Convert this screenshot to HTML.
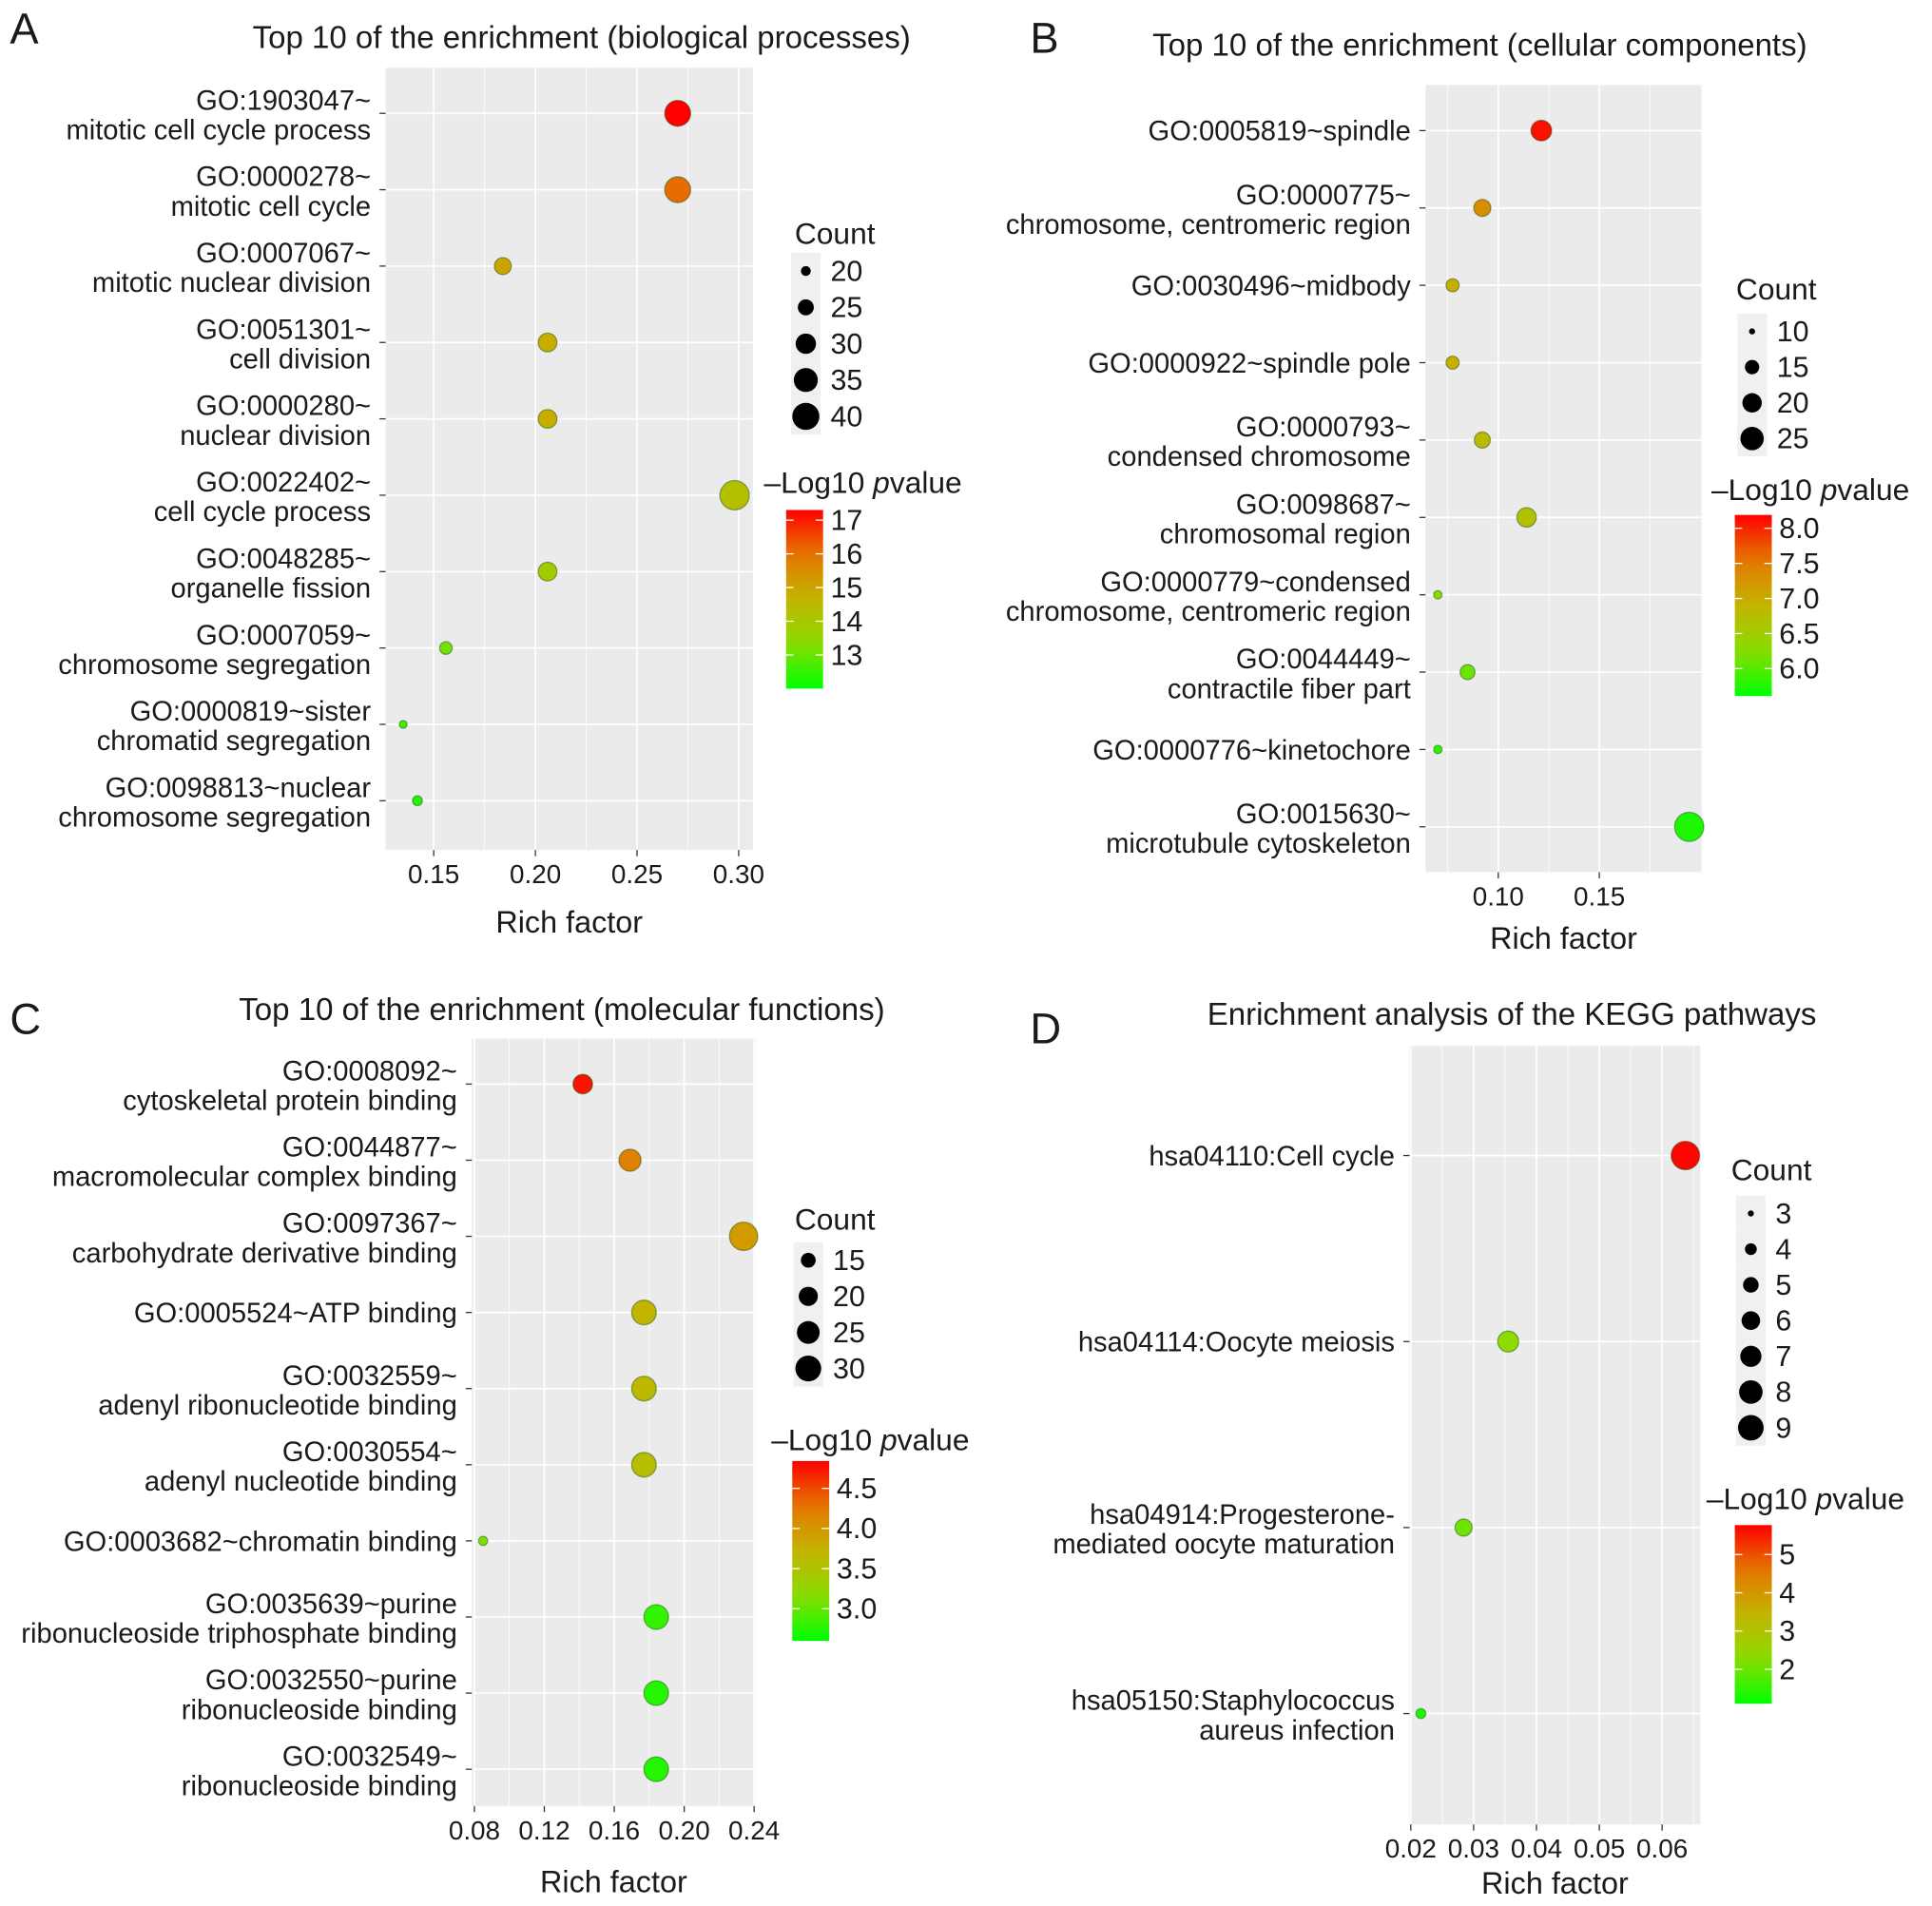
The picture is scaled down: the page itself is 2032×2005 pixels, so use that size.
<!DOCTYPE html>
<html><head><meta charset="utf-8"><style>
html,body{margin:0;padding:0;background:#fff}
svg{display:block}
text{font-family:"Liberation Sans",Arial,sans-serif;fill:#1a1a1a}
</style></head><body>
<svg id="fig" width="2032" height="2005" viewBox="0 0 1568 1547.2" xmlns="http://www.w3.org/2000/svg"></svg>
<script>
// ---------- Panel A data ----------
const aTerms = [["GO:1903047~","mitotic cell cycle process"],["GO:0000278~","mitotic cell cycle"],["GO:0007067~","mitotic nuclear division"],["GO:0051301~","cell division"],["GO:0000280~","nuclear division"],["GO:0022402~","cell cycle process"],["GO:0048285~","organelle fission"],["GO:0007059~","chromosome segregation"],["GO:0000819~sister","chromatid segregation"],["GO:0098813~nuclear","chromosome segregation"]];
const aRich = [0.270,0.270,0.184,0.206,0.206,0.298,0.206,0.156,0.135,0.142];
const aCount = [38,38,26,28,28,44,28,22,18,20];
const aLogP = [17.4,16.1,15.0,14.8,14.8,14.3,13.9,13.1,12.6,12.3];
const aXTicks = [0.15,0.20,0.25,0.30];
const aSizeBreaks = [20,25,30,35,40];
const aColorTicks = [13,14,15,16,17];
// ---------- Panel B data ----------
const bTerms = [["GO:0005819~spindle"],["GO:0000775~","chromosome, centromeric region"],["GO:0030496~midbody"],["GO:0000922~spindle pole"],["GO:0000793~","condensed chromosome"],["GO:0098687~","chromosomal region"],["GO:0000779~condensed","chromosome, centromeric region"],["GO:0044449~","contractile fiber part"],["GO:0000776~kinetochore"],["GO:0015630~","microtubule cytoskeleton"]];
const bRich = [0.1213,0.0921,0.0774,0.0774,0.0921,0.114,0.0701,0.0848,0.0701,0.1945];
const bCount = [21.5,17.5,14,14,16.5,20,11,15.5,11,34];
const bLogP = [8.1,7.3,6.95,6.95,6.8,6.7,6.3,6.1,5.8,5.75];
const bXTicks = [0.10,0.15];
const bSizeBreaks = [10,15,20,25];
const bColorTicks = [6.0,6.5,7.0,7.5,8.0];
// ---------- Panel C data ----------
const cTerms = [["GO:0008092~","cytoskeletal protein binding"],["GO:0044877~","macromolecular complex binding"],["GO:0097367~","carbohydrate derivative binding"],["GO:0005524~ATP binding"],["GO:0032559~","adenyl ribonucleotide binding"],["GO:0030554~","adenyl nucleotide binding"],["GO:0003682~chromatin binding"],["GO:0035639~purine","ribonucleoside triphosphate binding"],["GO:0032550~purine","ribonucleoside binding"],["GO:0032549~","ribonucleoside binding"]];
const cRich = [0.142,0.169,0.234,0.177,0.177,0.177,0.085,0.184,0.184,0.184];
const cCount = [20.5,24,34.5,28,28,28,10.5,28,28,28];
const cLogP = [4.75,4.2,3.95,3.7,3.65,3.6,3.1,2.8,2.75,2.75];
const cXTicks = [0.08,0.12,0.16,0.20,0.24];
const cSizeBreaks = [15,20,25,30];
const cColorTicks = [3.0,3.5,4.0,4.5];
// ---------- Panel D data ----------
const dTerms = [["hsa04110:Cell cycle"],["hsa04114:Oocyte meiosis"],["hsa04914:Progesterone-","mediated oocyte maturation"],["hsa05150:Staphylococcus","aureus infection"]];
const dRich = [0.0637,0.0355,0.0284,0.0216];
const dCount = [10.5,6.9,5.5,3.6];
const dLogP = [5.7,2.3,2.0,1.3];
const dXTicks = [0.02,0.03,0.04,0.05,0.06];
const dSizeBreaks = [3,4,5,6,7,8,9];
const dColorTicks = [2,3,4,5];

const NS = "http://www.w3.org/2000/svg";
const svg = document.getElementById('fig');
function mk(tag, attrs, parent, txt){
  const e = document.createElementNS(NS, tag);
  for (const k in attrs) e.setAttribute(k, attrs[k]);
  if (txt !== undefined) e.textContent = txt;
  (parent || svg).appendChild(e);
  return e;
}
const stops = [[0,[0,255,0]],[0.25,[140,220,0]],[0.5,[195,180,0]],[0.75,[228,120,0]],[1,[255,0,0]]];
function grad(t){
  t = Math.max(0, Math.min(1, t));
  for (let i=1;i<stops.length;i++){
    if (t <= stops[i][0]){
      const a = stops[i-1], b = stops[i], f = (t-a[0])/(b[0]-a[0]);
      const c = a[1].map((v,j)=>Math.round(v+(b[1][j]-v)*f));
      return `rgb(${c[0]},${c[1]},${c[2]})`;
    }
  }
  return 'rgb(255,0,0)';
}
let gradId = 0;

function panel(cfg){
  const g = mk('g', {});
  
  
  const L=cfg.plot[0], R=cfg.plot[1], T=cfg.plot[2], B=cfg.plot[3];
  const xs = v => cfg.x0px + (v - cfg.x0) * cfg.pxPer;
  const rowY = i => cfg.row0 + i * cfg.rowStep;
  const rad = c => Math.sqrt(Math.max(10, cfg.ra + cfg.rb * c));
  const col = p => grad((p - cfg.cMin) / (cfg.cMax - cfg.cMin));
  const let_ = mk('text', {x:cfg.letter[0], y:cfg.letter[1], 'font-size':35}, g, cfg.letterText);
  
  
  const tt = mk('text', {x:cfg.titlePos[0], y:cfg.titlePos[1], 'font-size':25.5, 'text-anchor':'middle'}, g, cfg.title);
  
  
  const bg = mk('rect', {x:L, y:T, width:R-L, height:B-T, fill:'#ebebeb'}, g);
  
  
  const step = cfg.xTicks[1] - cfg.xTicks[0];
  for (let v = cfg.xTicks[0] - step/2; v < cfg.xTicks[cfg.xTicks.length-1] + step; v += step){
    const px = xs(v);
    if (px > L && px < R){
      const ml = mk('line', {x1:px, x2:px, y1:T, y2:B, stroke:'#fff', 'stroke-width':0.6}, g);
      
      
    }
  }
  cfg.xTicks.forEach(v => {
    const px = xs(v);
    const gl = mk('line', {x1:px, x2:px, y1:T, y2:B, stroke:'#fff', 'stroke-width':1.3}, g);
    
    
    const tm = mk('line', {x1:px, x2:px, y1:B, y2:B+5, stroke:'#333', 'stroke-width':1}, g);
    
    
    const tl = mk('text', {x:px, y:B+27, 'font-size':21.5, 'text-anchor':'middle', fill:'#333'}, g, v.toFixed(2));
    
    
  });
  const xt = mk('text', {x:(L+R)/2, y:cfg.xTitleY, 'font-size':25, 'text-anchor':'middle'}, g, 'Rich factor');
  
  
  cfg.terms.forEach((t, i) => {
    const y = rowY(i);
    const hl = mk('line', {x1:L, x2:R, y1:y, y2:y, stroke:'#fff', 'stroke-width':1.3}, g);
    
    
    const tm = mk('line', {x1:L-5, x2:L, y1:y, y2:y, stroke:'#333', 'stroke-width':1}, g);
    
    
    const lx = L - 12;
    if (t.length === 1){
      const tl = mk('text', {x:lx, y:y+8, 'font-size':22.5, 'text-anchor':'end', fill:'#333'}, g, t[0]);
      
      
    } else {
      const tl = mk('text', {x:lx, y:y-3, 'font-size':22.5, 'text-anchor':'end', fill:'#333'}, g, t[0]);
      
      
      const tl2 = mk('text', {x:lx, y:y+21, 'font-size':22.5, 'text-anchor':'end', fill:'#333'}, g, t[1]);
      
      
    }
  });
  cfg.terms.forEach((t, i) => {
    const c = mk('circle', {cx:xs(cfg.rich[i]), cy:rowY(i), r:rad(cfg.count[i]), fill:col(cfg.logp[i]), stroke:'rgba(0,60,0,0.4)', 'stroke-width':1}, g);
    
    
  });
  const ct = mk('text', {x:cfg.cntPos[0], y:cfg.cntPos[1], 'font-size':24.5}, g, 'Count');
  
  
  cfg.sizeBreaks.forEach((s, i) => {
    const y = cfg.keyY0 + i * cfg.keyStep;
    const kb = mk('rect', {x:cfg.keyX-12, y:y-cfg.keyStep/2, width:24, height:cfg.keyStep, fill:'#f0f0f0'}, g);
    
    
    const kc = mk('circle', {cx:cfg.keyX, cy:y, r:Math.sqrt(Math.max(5, cfg.ra + cfg.rb * s)), fill:'#000'}, g);
    
    
    const kl = mk('text', {x:cfg.keyX+20, y:y+8, 'font-size':23.5}, g, String(s));
    
    
  });
  const [bx, by0, by1] = cfg.bar;
  const lt = mk('text', {x:cfg.cbTitle[0], y:cfg.cbTitle[1], 'font-size':24.5}, g);
  
  
  mk('tspan', {}, lt, '\u2013Log10 ');
  mk('tspan', {'font-style':'italic'}, lt, 'p');
  mk('tspan', {}, lt, 'value');
  const id = 'gr' + (gradId++);
  const defs = mk('defs', {}, g);
  const lg = mk('linearGradient', {id:id, x1:0, y1:1, x2:0, y2:0}, defs);
  for (let k=0;k<=10;k++) mk('stop', {offset:k/10, 'stop-color':grad(k/10)}, lg);
  const cb = mk('rect', {x:bx, y:by0, width:30, height:by1-by0, fill:`url(#${id})`}, g);
  
  
  const cy = v => by1 - (v - cfg.cMin) / (cfg.cMax - cfg.cMin) * (by1 - by0);
  cfg.colorTicks.forEach(v => {
    const y = cy(v);
    mk('line', {x1:bx, x2:bx+6, y1:y, y2:y, stroke:'#fff', 'stroke-width':1}, g);
    mk('line', {x1:bx+24, x2:bx+30, y1:y, y2:y, stroke:'#fff', 'stroke-width':1}, g);
    const tl = mk('text', {x:bx+36, y:y+8, 'font-size':23.5}, g, cfg.cFmt(v));
    
    
  });
}

panel({name:'panel-a-biological-processes', letterText:'A', letter:[8,35], title:'Top 10 of the enrichment (biological processes)', titlePos:[472,39],
  plot:[313,611,55,690], x0:0.15, x0px:352, pxPer:1650, row0:92, rowStep:62, xTitleY:757,
  terms:aTerms, rich:aRich, count:aCount, logp:aLogP, xTicks:aXTicks,
  ra:-89, rb:5.25, cMin:12.0, cMax:17.3, sizeBreaks:aSizeBreaks, colorTicks:aColorTicks, cFmt:v=>String(v),
  cntPos:[645,198], keyX:654, keyY0:220, keyStep:29.5, cbTitle:[620,400], bar:[638,414,559]});

panel({name:'panel-b-cellular-components', letterText:'B', letter:[836,43], title:'Top 10 of the enrichment (cellular components)', titlePos:[1201,45],
  plot:[1157,1381,69,708], x0:0.10, x0px:1216, pxPer:1640, row0:106, rowStep:62.8, xTitleY:770,
  terms:bTerms, rich:bRich, count:bCount, logp:bLogP, xTicks:bXTicks,
  ra:-50, rb:5.6, cMin:5.61, cMax:8.19, sizeBreaks:bSizeBreaks, colorTicks:bColorTicks, cFmt:v=>v.toFixed(1),
  cntPos:[1409,243], keyX:1422, keyY0:269, keyStep:29, cbTitle:[1389,406], bar:[1408,418,565]});

panel({name:'panel-c-molecular-functions', letterText:'C', letter:[8,839], title:'Top 10 of the enrichment (molecular functions)', titlePos:[456,828],
  plot:[383,613,843,1466], x0:0.08, x0px:385, pxPer:1419, row0:880, rowStep:61.8, xTitleY:1536,
  terms:cTerms, rich:cRich, count:cCount, logp:cLogP, xTicks:cXTicks,
  ra:-38, rb:4.93, cMin:2.60, cMax:4.84, sizeBreaks:cSizeBreaks, colorTicks:cColorTicks, cFmt:v=>v.toFixed(1),
  cntPos:[645,998], keyX:656, keyY0:1023, keyStep:29.3, cbTitle:[626,1177], bar:[643,1186,1332]});

panel({name:'panel-d-kegg-pathways', letterText:'D', letter:[836,847], title:'Enrichment analysis of the KEGG pathways', titlePos:[1227,832],
  plot:[1144,1380,849,1481], x0:0.02, x0px:1145, pxPer:5100, row0:938, rowStep:151, xTitleY:1537,
  terms:dTerms, rich:dRich, count:dCount, logp:dLogP, xTicks:dXTicks,
  ra:-45, rb:17, cMin:1.1, cMax:5.77, sizeBreaks:dSizeBreaks, colorTicks:dColorTicks, cFmt:v=>String(v),
  cntPos:[1405,958], keyX:1421, keyY0:985, keyStep:29, cbTitle:[1385,1225], bar:[1408,1238,1383]});
</script>
</body></html>
